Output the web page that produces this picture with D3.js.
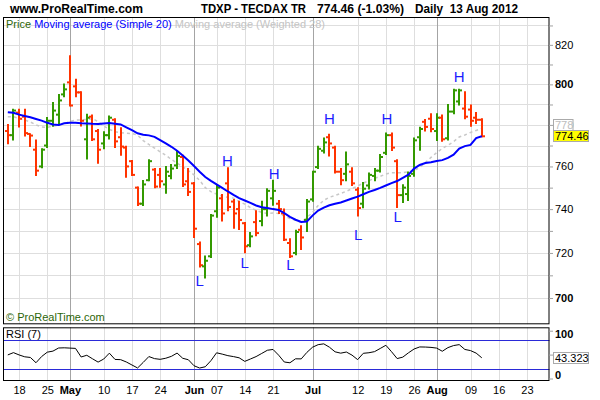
<!DOCTYPE html>
<html>
<head>
<meta charset="utf-8">
<script src="https://cdn.jsdelivr.net/npm/d3@7"></script>
<style>
body { margin: 0; background: #fff; }
svg { display: block; font-family: "Liberation Sans", Arial, sans-serif; }
</style>
</head>
<body>
<svg width="600" height="400"></svg>
<script>
// daily bars, 16 Apr 2012 .. 13 Aug 2012 (trading day index 0..84)
var open = [777,775,786,784,775.6,768,760,770,782,785,
    795,801,799,796,773,784,777,771,775,782.5,
    774,769,762.5,750,742.5,753.5,758.5,756,751.5,755.5,
    760.5,764.5,753,752,724,714,718.5,739,745,752,
    743.5,740,733.5,723.5,734,734.5,740,745,742.5,738,
    724.5,720,730.5,735,744.5,759.7,767.5,774,769,757.5,
    756.5,757.5,749,742.5,751,755.5,758,766.5,775,762.5,
    746.5,747,756.5,774,781.5,783,777,783.5,773.5,786.5,
    791.5,788,787.5,783.5,782.5];
var high = [780.2,787.6,787.6,787.6,775.7,772.7,768.4,783.6,791,795,
    800.2,814.4,802.5,796.3,785.2,784.8,777.7,776.6,784.3,783,
    778.6,769.6,762.8,750.3,753.4,763.2,759,759,760,760.9,
    767.3,765.3,759,752.4,725,718.6,737.5,751,746.8,759.4,
    744.5,743.6,733.8,729.3,739.2,743.6,749.5,753.5,744,740,
    726.4,730.3,732.3,744.5,757.7,769.6,773.6,775.4,769.6,759,
    766.9,759.4,750,752.4,756.9,759,765.7,776,776,763.2,
    751.4,757.4,773.6,778.9,782.6,785.5,785.5,784.8,790,797.5,
    797.5,796.3,789.7,786,783];
var low = [770.8,772.7,779,774.6,769.5,755.7,759.4,769,779.3,780,
    793.8,789.3,793.8,779.4,763.6,772.4,761.5,768.4,773.2,769,
    765.3,754.9,755.7,741.7,741.7,753.2,750,750.2,747.4,754.2,
    759,750.5,746.3,727,713.7,708.8,717.9,736.3,734.5,739.2,
    731.2,730.6,720.1,722.8,727.8,732.3,736.8,741.8,738,725.6,
    718,719.2,721.6,729.7,743.6,759,766.4,765,756.9,751.4,
    753.2,751,736.8,740.6,749.4,753.2,757.4,765.7,767.6,740.8,
    743.1,744,755.4,767.7,777,776.6,772.4,772,772.7,785.5,
    789.7,783,779.3,780.7,774.2];
var close = [775,787,783,776,774.8,758,768,782,787,792,
    797.5,789.5,796,782,783.5,773,768,775,783.5,772,
    769.5,760,756,742.5,751.5,762.5,750.5,753,757.5,759,
    765,751.5,748,731,714.5,716.5,737,750,738,741,
    738,735,723,727.5,729,740,748.5,748.5,740,726,
    718.5,729.5,727,743.5,757.5,768.4,771.5,771,757.5,753.5,
    761,752,740.5,749.5,756,758,764.5,775,769,746.5,
    750,755.5,772.5,778,779,778,783.5,773,786.5,797,
    797,784,782,782.5,774.46];

// indicators
var sma20 = [786.2,785.9,785.0,784.3,783.7,782.9,782.1,781.0,780.2,779.9,
    780.8,781.0,781.0,780.8,780.7,780.5,780.4,780.7,780.9,780.6,
    780.2,778.8,777.4,775.9,775.2,774.9,774.2,772.6,771.0,769.4,
    767.5,765.2,762.8,760.2,757.5,755.0,753.2,751.5,749.9,748.2,
    746.6,745.1,744.0,742.9,741.7,740.9,740.5,740.0,739.6,738.1,
    736.4,735.1,734.1,734.3,737.0,739.3,740.7,741.8,742.5,743.1,
    744.0,744.9,745.8,746.9,748.0,748.9,749.9,751.0,752.1,753.1,
    754.6,756.1,759.0,760.7,761.6,762.0,762.6,763.0,764.1,765.6,
    768.5,769.7,770.3,773.6,774.5];
var wma28 = [784.0,784.0,783.1,782.4,781.4,780.0,779.0,778.8,779.4,779.8,
    780.5,781.6,782.4,782.4,782.6,783.1,781.6,779.4,777.8,776.7,
    776.2,775.9,775.8,775.0,772.4,770.5,768.8,767.0,765.3,763.3,
    761.6,759.8,758.0,756.0,753.4,750.0,748.1,747.0,746.0,745.5,
    745.1,743.6,742.3,740.7,739.4,738.5,738.0,738.2,738.0,736.8,
    735.7,734.8,733.9,736.1,738.4,741.7,744.1,745.5,746.3,747.3,
    748.3,749.5,750.8,752.1,753.3,754.4,755.3,756.4,757.0,757.0,
    757.0,757.5,758.1,759.5,761.9,764.3,766.6,768.6,770.1,771.9,
    774.1,775.1,776.3,777.3,778.3];
var rsi7 = [49.3,54.1,49.3,45.4,44.0,33.0,46.0,55.1,57.3,63.8,
    64.2,63.6,63.0,45.0,48.6,41.3,34.3,40.7,53.0,39.9,
    39.4,34.6,28.3,22.0,33.7,45.9,41.6,40.1,42.4,46.4,
    53.2,42.3,39.2,26.7,21.9,24.6,37.3,53.8,51.0,47.8,
    45.8,43.3,35.8,40.8,45.8,52.4,59.1,60.8,48.8,34.5,
    32.9,41.2,41.0,54.6,65.4,70.8,72.5,65.5,55.8,53.0,
    55.4,48.9,39.5,52.7,53.9,56.2,62.8,69.5,56.1,41.7,
    44.7,53.7,61.7,66.0,65.8,65.1,63.6,57.0,64.6,68.9,
    70.9,60.8,58.4,53.1,43.3];

// x axis (trading day index) ticks
var tickIdx = [2,7,11,17,22,27,33,37,42,47,54,62,67,72,76,82,87,92];
var tickLabels = ["18","25","May","10","17","24","Jun","07","14","21","Jul","12","19","26","Aug","09","16","23"];
var monthIdx = [11,33,54,76];

// price axis
var priceTicks = [700,710,720,730,740,750,760,770,780,790,800,810,820,830];
var rsiTicks = [0,50,100];
var rsiLevels = [20,80];

// H / L marks
var hIdx = [38.9,47.2,57,67.2,80], hVal = [762.7,756.7,783.2,783.2,803.8];
var lIdx = [34,42,50.1,62.1,69.1], lVal = [707.6,715.8,714.6,728.5,736.5];

// header texts
var headTexts = ["www.ProRealTime.com", "TDXP - TECDAX TR", "774.46 (-1.03%)", "Daily  13 Aug 2012"];
var headX = [10, 201, 317, 415], headW = [133, 105, 87, 103];

var svg = d3.select("svg");
var left = 3, right = 549.5,
    pTop = 17, pBot = 324.3,
    rTop = 327.3, rBot = 381;

var x = d3.scaleLinear().domain([-0.85, 96]).range([left, right]);
var y = d3.scaleLog().domain([688.6, 834.4]).range([pBot, pTop]);
var yr = d3.scaleLinear().domain([0, 100]).range([378.5, 330.7]);

var idx = d3.range(close.length);

// header
svg.append("g").attr("font-weight", "bold").attr("font-size", 12.5).attr("fill", "#000")
    .selectAll("text").data(headTexts).enter().append("text")
    .attr("x", (d, i) => headX[i]).attr("y", 13)
    .attr("textLength", (d, i) => headW[i]).attr("lengthAdjust", "spacingAndGlyphs")
    .attr("xml:space", "preserve")
    .text(d => d);

// grids
var grid = svg.append("g");
grid.selectAll("line.h").data(priceTicks).enter().append("line")
    .attr("x1", left).attr("x2", right)
    .attr("y1", d => Math.round(y(d)) + 0.5).attr("y2", d => Math.round(y(d)) + 0.5)
    .attr("stroke", "#dedede");
[[pTop, pBot], [rTop, rBot]].forEach(function (p) {
    grid.append("g").selectAll("line").data(tickIdx).enter().append("line")
        .attr("x1", d => Math.round(x(d)) + 0.5).attr("x2", d => Math.round(x(d)) + 0.5)
        .attr("y1", p[0]).attr("y2", p[1])
        .attr("stroke", d => monthIdx.indexOf(d) >= 0 ? "#a4a4a4" : "#dedede");
});

// weighted MA (dashed grey)
svg.append("path").datum(idx)
    .attr("fill", "none").attr("stroke", "#c8c8c8").attr("stroke-width", 1.5)
    .attr("stroke-dasharray", "3,3")
    .attr("d", d3.line().x(i => x(i)).y(i => y(wma28[i])));

// OHLC bars
var bars = svg.append("g").selectAll("g").data(idx).enter().append("g")
    .attr("stroke", i => close[i] >= open[i] ? "#339900" : "#ff3300")
    .attr("stroke-width", 2);
bars.append("line")
    .attr("x1", i => Math.round(x(i))).attr("x2", i => Math.round(x(i)))
    .attr("y1", i => y(high[i]) - 0.5).attr("y2", i => y(low[i]) + 0.5);
bars.append("line")
    .attr("x1", i => Math.round(x(i)) - 3).attr("x2", i => Math.round(x(i)))
    .attr("y1", i => y(open[i])).attr("y2", i => y(open[i]));
bars.append("line")
    .attr("x1", i => Math.round(x(i))).attr("x2", i => Math.round(x(i)) + 3)
    .attr("y1", i => y(close[i])).attr("y2", i => y(close[i]));

// simple MA (blue)
svg.append("path").datum(idx)
    .attr("fill", "none").attr("stroke", "#0000ff").attr("stroke-width", 2)
    .attr("d", d3.line().x(i => x(i)).y(i => y(sma20[i])));

// H / L labels
var hl = svg.append("g").attr("font-size", 15).attr("fill", "#1c1cff").attr("text-anchor", "middle");
hl.selectAll("text.h").data(hIdx).enter().append("text")
    .attr("x", d => x(d)).attr("y", (d, i) => y(hVal[i]) + 5.5).text("H");
hl.selectAll("text.l").data(lIdx).enter().append("text")
    .attr("x", d => x(d)).attr("y", (d, i) => y(lVal[i]) + 5.5).text("L");

// legend + credits
var leg = svg.append("text").attr("x", 6).attr("y", 28).attr("font-size", 11);
leg.append("tspan").attr("fill", "#2d6608").text("Price ");
leg.append("tspan").attr("fill", "#0000ff").text("Moving average (Simple 20) ");
leg.append("tspan").attr("fill", "#c4c4c4").text("Moving average (Weighted 28)");
svg.append("text").attr("x", 6).attr("y", 321).attr("font-size", 11)
    .attr("fill", "#2d6608").text("\u00a9 ProRealTime.com");

// RSI panel
svg.append("g").selectAll("line").data(rsiLevels).enter().append("line")
    .attr("x1", left).attr("x2", right)
    .attr("y1", d => Math.round(yr(d)) + 0.5).attr("y2", d => Math.round(yr(d)) + 0.5)
    .attr("stroke", "#2a2ad8");
svg.append("path").datum(idx)
    .attr("fill", "none").attr("stroke", "#000").attr("stroke-width", 1)
    .attr("d", d3.line().x(i => x(i)).y(i => yr(rsi7[i])));
svg.append("text").attr("x", 6).attr("y", 338).attr("font-size", 11).text("RSI (7)");

// frames
svg.append("rect").attr("x", left + 0.5).attr("y", pTop + 0.5)
    .attr("width", right - left - 1).attr("height", pBot - pTop - 1)
    .attr("fill", "none").attr("stroke", "#000");
svg.append("rect").attr("x", left + 0.5).attr("y", rTop + 0.5)
    .attr("width", right - left - 1).attr("height", rBot - rTop - 1)
    .attr("fill", "none").attr("stroke", "#000");

// price axis
var pAxis = svg.append("g").attr("transform", "translate(" + (right - 0.5) + ",0)")
    .call(d3.axisRight(y).tickValues(priceTicks).tickSize(4).tickPadding(2)
        .tickFormat(d => d % 20 === 0 ? d : ""));
pAxis.select(".domain").remove();
pAxis.selectAll(".tick line").attr("stroke", "#a0a0a0");
pAxis.selectAll(".tick text").attr("font-size", 11).attr("font-family", null).attr("fill", "#000")
    .attr("font-weight", d => d % 100 === 0 ? "bold" : "normal");

// RSI axis (the 50 label sits under the value box, so it is left blank)
var rAxis = svg.append("g").attr("transform", "translate(" + (right - 0.5) + ",0)")
    .call(d3.axisRight(yr).tickValues(rsiTicks).tickSize(4).tickPadding(2)
        .tickFormat(d => d === 50 ? "" : d));
rAxis.select(".domain").remove();
rAxis.selectAll(".tick line").attr("stroke", "#a0a0a0");
rAxis.selectAll(".tick text").attr("font-size", 11).attr("font-family", null).attr("font-weight", "bold")
    .attr("y", d => Math.max(rTop + 7, Math.min(rBot - 6, yr(d))) - yr(d));

// time axis
var xAxis = svg.append("g").attr("transform", "translate(0," + rBot + ")")
    .call(d3.axisBottom(x).tickValues(tickIdx).tickSize(0).tickPadding(5)
        .tickFormat((d, i) => tickLabels[i]));
xAxis.select(".domain").remove();
xAxis.selectAll(".tick text").attr("font-size", 11).attr("font-family", null).attr("fill", "#000")
    .attr("font-weight", d => monthIdx.indexOf(d) >= 0 ? "bold" : "normal");

// value boxes on the right
function valueBox(yc, w, txt, fill, color) {
    var g = svg.append("g");
    g.append("rect").attr("x", 553.5).attr("y", Math.round(yc) - 5.5)
        .attr("width", w).attr("height", 11)
        .attr("fill", fill).attr("stroke", "#aaaaaa");
    g.append("text").attr("x", 555).attr("y", Math.round(yc) + 4)
        .attr("font-size", 11).attr("fill", color).text(txt);
}
valueBox(y(wma28[84]) - 3.5, 19.5, "778", "#fff", "#bdbdbd");
valueBox(y(close[84]), 35, "774.46", "#ffff00", "#000");
valueBox(yr(rsi7[84]), 35, "43.323", "#fff", "#000");
</script>
</body>
</html>
